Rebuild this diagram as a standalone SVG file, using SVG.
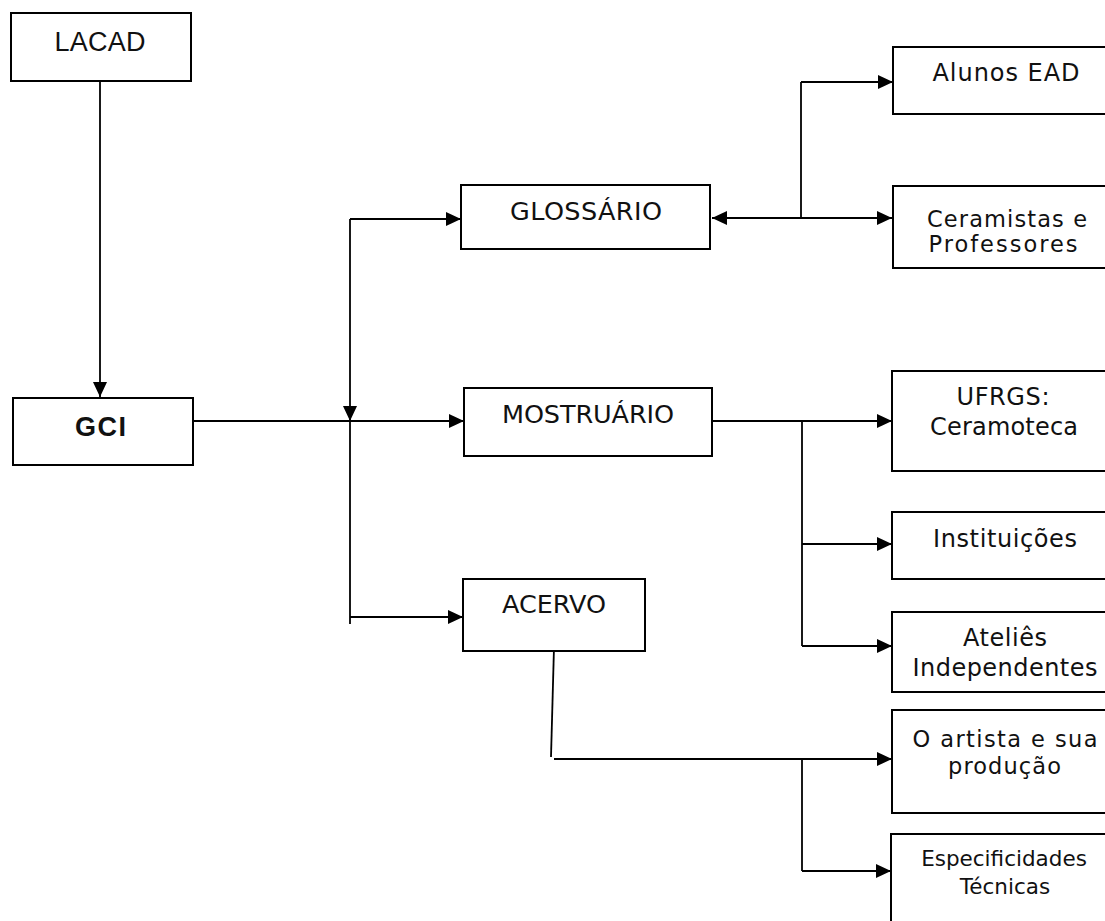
<svg xmlns="http://www.w3.org/2000/svg" width="1105" height="921" viewBox="0 0 1105 921">
<style>
.box{fill:#fff;stroke:#000;stroke-width:2}
.ln{fill:none;stroke:#000;stroke-width:1.8}
.arr{fill:none;stroke:#000;stroke-width:1.8;marker-end:url(#ah)}
.t{font-family:"DejaVu Sans",Verdana,sans-serif;font-size:24px;fill:#111;text-anchor:middle}
.s{font-size:22.5px}
.m{font-size:25.5px}
.e{font-size:21.5px}
.a{font-family:"Liberation Sans",Arial,sans-serif;font-size:27px;fill:#111;text-anchor:middle}
</style>
<defs>
<marker id="ah" viewBox="0 0 15 14" refX="15" refY="7" markerWidth="15" markerHeight="14" markerUnits="userSpaceOnUse" orient="auto">
<path d="M0,0 L15,7 L0,14 Z" fill="#000"/>
</marker>
</defs>
<g id="connectors">
<path class="arr" d="M100,81 V397"/>
<path class="arr" d="M193,421 H464"/>
<path class="arr" d="M350,219 V421"/>
<path class="ln" d="M350,421 V624"/>
<path class="arr" d="M350,219 H461"/>
<path class="arr" d="M350,617 H463"/>
<path class="arr" d="M801,218 H712"/>
<path class="arr" d="M801,218 H892"/>
<path class="ln" d="M801,82 V218"/>
<path class="arr" d="M801,82 H893"/>
<path class="arr" d="M712,421 H892"/>
<path class="ln" d="M802,421 V646"/>
<path class="arr" d="M802,544 H892"/>
<path class="arr" d="M802,646 H892"/>
<path class="ln" d="M554,647 L551,757"/>
<path class="arr" d="M554,759 H892"/>
<path class="ln" d="M802,759 V871"/>
<path class="arr" d="M802,871 H891"/>
</g>
<g id="lacad"><rect class="box" x="11" y="13" width="180" height="68"/><text class="a" x="100" y="51" textLength="91">LACAD</text></g>
<g id="gci"><rect class="box" x="13" y="398" width="180" height="67"/><text class="a" x="100.5" y="436" font-weight="bold" font-size="26" textLength="51">GCI</text></g>
<g id="glossario"><rect class="box" x="461" y="185" width="249" height="64"/><text class="t m" x="586" y="220" textLength="152">GLOSSÁRIO</text></g>
<g id="mostruario"><rect class="box" x="464" y="388" width="248" height="68"/><text class="t m" x="588" y="423" textLength="172">MOSTRUÁRIO</text></g>
<g id="acervo"><rect class="box" x="463" y="579" width="182" height="72"/><text class="t m" x="554" y="613" textLength="104">ACERVO</text></g>
<g id="alunos"><rect class="box" x="893" y="47" width="240" height="67"/><text class="t" x="1006" y="81" textLength="147">Alunos EAD</text></g>
<g id="ceramistas"><rect class="box" x="893" y="186" width="240" height="82"/><text class="t s" x="1007" y="227" textLength="160">Ceramistas e</text><text class="t s" x="1003" y="252" textLength="149">Professores</text></g>
<g id="ufrgs"><rect class="box" x="892" y="371" width="240" height="100"/><text class="t" x="1003" y="405" textLength="93">UFRGS:</text><text class="t" x="1004" y="435" textLength="148">Ceramoteca</text></g>
<g id="instituicoes"><rect class="box" x="892" y="512" width="240" height="67"/><text class="t" x="1005" y="547" textLength="144">Instituições</text></g>
<g id="atelies"><rect class="box" x="892" y="612" width="240" height="80"/><text class="t" x="1005" y="646" textLength="84">Ateliês</text><text class="t" x="1005" y="676" textLength="185">Independentes</text></g>
<g id="artista"><rect class="box" x="892" y="710" width="240" height="103"/><text class="t s" x="1005" y="747" textLength="185">O artista e sua</text><text class="t s" x="1004.5" y="774" textLength="113">produção</text></g>
<g id="especificidades"><rect class="box" x="891" y="834" width="240" height="110"/><text class="t e" x="1004" y="866">Especificidades</text><text class="t e" x="1005" y="894">Técnicas</text></g>
</svg>
